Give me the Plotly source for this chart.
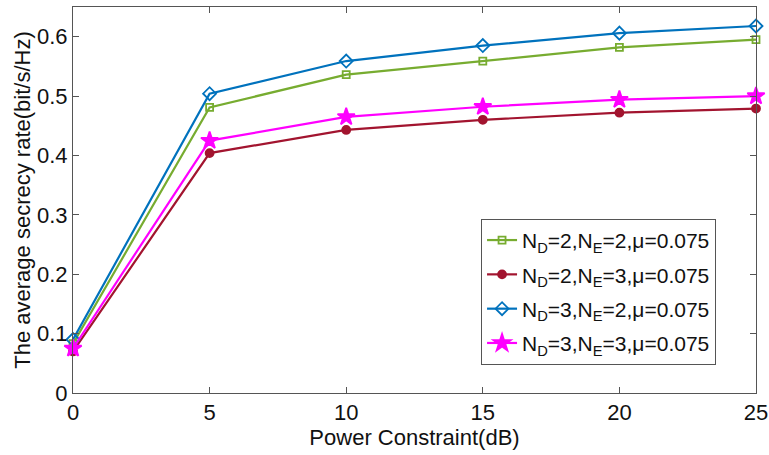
import plotly.graph_objects as go

power_db = [0, 5, 10, 15, 20, 25]
rate_nd2_ne2 = [0.083, 0.481, 0.536, 0.559, 0.582, 0.595]
rate_nd2_ne3 = [0.070, 0.404, 0.443, 0.460, 0.472, 0.479]
rate_nd3_ne2 = [0.090, 0.504, 0.559, 0.585, 0.606, 0.618]
rate_nd3_ne3 = [0.075, 0.425, 0.465, 0.482, 0.494, 0.500]
names = [
    "N<sub>D</sub>=2,N<sub>E</sub>=2,μ=0.075",
    "N<sub>D</sub>=2,N<sub>E</sub>=3,μ=0.075",
    "N<sub>D</sub>=3,N<sub>E</sub>=2,μ=0.075",
    "N<sub>D</sub>=3,N<sub>E</sub>=3,μ=0.075",
]
x_ticks = [0, 5, 10, 15, 20, 25]
y_ticks = [0, 0.1, 0.2, 0.3, 0.4, 0.5, 0.6]
y_tick_text = ["0", "0.1", "0.2", "0.3", "0.4", "0.5", "0.6"]

styles = [
    dict(color="#77AC30", symbol="square-open", size=7),
    dict(color="#A2142F", symbol="circle", size=8),
    dict(color="#0072BD", symbol="diamond-open", size=10),
    dict(color="#FF00FF", symbol="star", size=13),
]
series = [rate_nd2_ne2, rate_nd2_ne3, rate_nd3_ne2, rate_nd3_ne3]

fig = go.Figure()
for i, (name, ys, st) in enumerate(zip(names, series, styles)):
    fig.add_trace(go.Scatter(
        x=power_db, y=ys, name=name, mode="lines+markers", legendgroup=f"g{i}",
        line=dict(color=st["color"], width=2.2),
        marker=dict(symbol=st["symbol"], size=st["size"], color=st["color"],
                    line=dict(color=st["color"], width=1.8)),
        cliponaxis=False,
    ))

font_family = "Liberation Sans, Arial, sans-serif"
axis_common = dict(
    showgrid=False, zeroline=False, showline=True, linecolor="#555555", linewidth=1,
    mirror="ticks", ticks="inside", ticklen=6, tickcolor="#555555", automargin=False,
    tickfont=dict(family=font_family, size=22, color="#111111"),
)
fig.update_xaxes(range=[0, 25], tickvals=x_ticks,
                 title=dict(text="Power Constraint(dB)", font=dict(family=font_family, size=22, color="#111111"), standoff=4),
                 **axis_common)
fig.update_yaxes(range=[0, 0.65], tickvals=y_ticks, ticktext=y_tick_text,
                 title=dict(text="The average secrecy rate(bit/s/Hz)", font=dict(family=font_family, size=22, color="#111111"), standoff=0),
                 **axis_common)

fig.update_layout(
    width=769, height=455,
    margin=dict(l=73, r=13, t=7, b=62),
    paper_bgcolor="white", plot_bgcolor="white",
    font=dict(family=font_family, color="#111111"),
    legend=dict(
        x=0.9415, xanchor="right", y=0.451, yanchor="top",
        bordercolor="#555555", borderwidth=1, bgcolor="white",
        font=dict(family=font_family, size=21, color="#111111"),
        tracegroupgap=4, itemwidth=30,
    ),
)
fig.write_html("out.html", config={"displayModeBar": False},
               post_script="document.body.style.margin='0';document.body.style.overflow='hidden';")
